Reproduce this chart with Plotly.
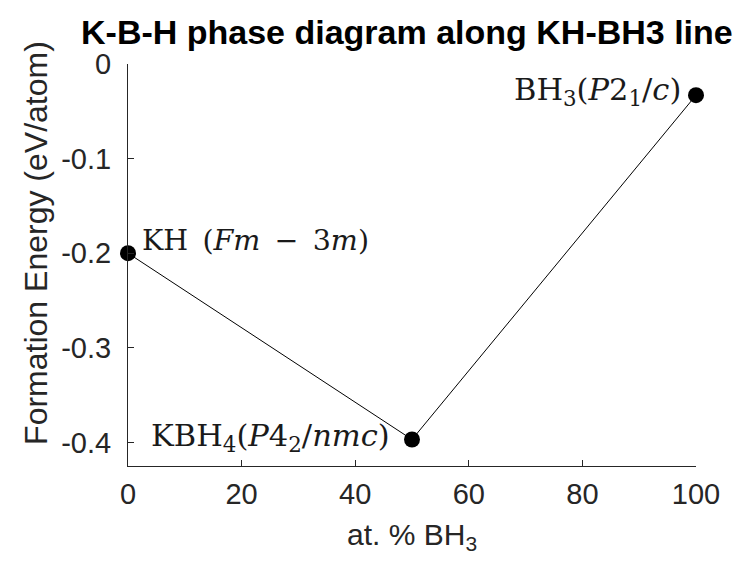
import plotly.graph_objects as go

x_pct = [0, 50, 100]
energy = [-0.2, -0.397, -0.033]
labels = ["KH\u2002(<i>Fm</i>\u2002−\u20023<i>m</i>)",
          "KBH<sub>4</sub>(<i>P</i>4<sub>2</sub>/<i>nmc</i>)",
          "BH<sub>3</sub>(<i>P</i>2<sub>1</sub>/<i>c</i>)"]
x_ticks = [0, 20, 40, 60, 80, 100]
y_ticks = [0, -0.1, -0.2, -0.3, -0.4]
y_ticklabels = ["0", "-0.1", "-0.2", "-0.3", "-0.4"]
title_text = "<b>K-B-H phase diagram along KH-BH3 line</b>"
x_title = "at. % BH<sub>3</sub>"
y_title = "Formation Energy (eV/atom)"

sans = "Liberation Sans, Arial, sans-serif"
serif = "DejaVu Serif, Liberation Serif, serif"

fig = go.Figure()
fig.add_trace(go.Scatter(
    x=x_pct, y=energy, mode="lines+markers",
    line=dict(color="black", width=1),
    marker=dict(color="black", size=16),
    cliponaxis=False, showlegend=False,
))

label_style = [("left", "bottom", 12, -6, 28.5),
               ("right", "middle", -20, 2, 30.5),
               ("right", "middle", -13, 4, 30.5)]
for xi, yi, t, (xa, ya, dx, dy, fs) in zip(x_pct, energy, labels, label_style):
    fig.add_annotation(x=xi, y=yi, text=t, showarrow=False,
                       xanchor=xa, yanchor=ya, xshift=dx, yshift=dy,
                       font=dict(family=serif, size=fs, color="#1a1a1a"))

fig.add_annotation(text=title_text, xref="paper", yref="paper", x=0.492, y=1,
                   xanchor="center", yanchor="bottom", yshift=11, showarrow=False,
                   font=dict(family=sans, size=34, color="black"))
fig.add_annotation(text=x_title, xref="paper", yref="paper", x=0.5, y=0,
                   xanchor="center", yanchor="top", yshift=-50, showarrow=False,
                   font=dict(family=sans, size=30, color="#262626"))
fig.add_annotation(text=y_title, xref="paper", yref="paper", x=0, y=0.555,
                   xanchor="center", yanchor="middle", xshift=-92, textangle=-90,
                   showarrow=False, font=dict(family=sans, size=32, color="#262626"))

axis_font = dict(family=sans, size=29, color="#262626")
fig.update_layout(
    width=754, height=563,
    paper_bgcolor="white", plot_bgcolor="white",
    margin=dict(l=120, r=66, t=56, b=105, autoexpand=False),
    xaxis=dict(range=[0, 100], tickvals=x_ticks, ticks="inside", ticklen=6,
               tickcolor="#262626", showline=True, linecolor="#262626", linewidth=1,
               showgrid=False, zeroline=False, tickfont=axis_font, automargin=False,
               ticklabelstandoff=2),
    yaxis=dict(range=[-0.425, 0], tickvals=y_ticks, ticktext=y_ticklabels, ticks="inside", ticklen=6,
               tickcolor="#262626", showline=True, linecolor="#262626", linewidth=1,
               showgrid=False, zeroline=False, tickfont=axis_font, automargin=False,
               ticklabelstandoff=10),
)
fig.write_html("out.html")
